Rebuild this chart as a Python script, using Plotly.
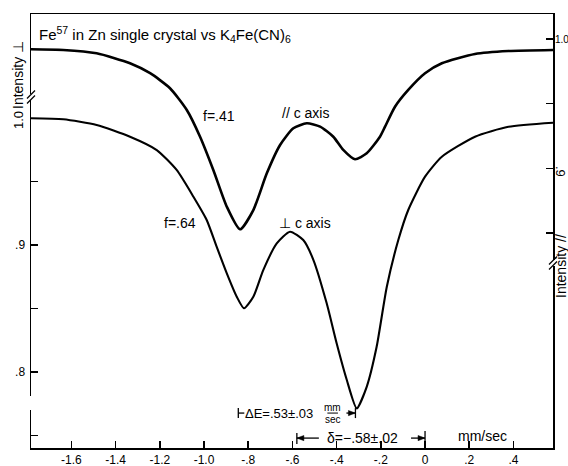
import plotly.graph_objects as go

# ---- data ----
# velocity (mm/sec)
x_tick_vals = [-1.6, -1.4, -1.2, -1.0, -0.8, -0.6, -0.4, -0.2, 0.0, 0.2, 0.4]
x_tick_text = ["-1.6", "-1.4", "-1.2", "-1.0", "-.8", "-.6", "-.4", "-.2", "0", ".2", ".4"]

# parallel to c axis (f=.41), right-hand intensity axis
par_v = [-1.783, -1.637, -1.486, -1.335, -1.244, -1.154, -1.078, -1.018, -0.958, -0.897,
         -0.837, -0.777, -0.716, -0.656, -0.596, -0.535, -0.475, -0.415, -0.370, -0.317,
         -0.264, -0.204, -0.181, -0.136, -0.076, 0.000, 0.076, 0.226, 0.377, 0.579]
par_i = [0.9920, 0.9915, 0.9889, 0.9812, 0.9735, 0.9619, 0.9451, 0.9244, 0.8987, 0.8703,
         0.8528, 0.8677, 0.8961, 0.9180, 0.9309, 0.9348, 0.9322, 0.9244, 0.9142, 0.9070,
         0.9116, 0.9244, 0.9322, 0.9476, 0.9606, 0.9735, 0.9812, 0.9884, 0.9907, 0.9915]

# perpendicular to c axis (f=.64), left-hand intensity axis
perp_v = [-1.783, -1.637, -1.486, -1.335, -1.214, -1.124, -1.048, -0.988, -0.943, -0.897,
          -0.852, -0.819, -0.777, -0.732, -0.671, -0.611, -0.551, -0.505, -0.445, -0.400,
          -0.354, -0.309, -0.264, -0.219, -0.173, -0.121, -0.076, 0.000, 0.076, 0.226,
          0.377, 0.579]
perp_i = [0.9998, 0.9990, 0.9945, 0.9853, 0.9748, 0.9591, 0.9380, 0.9197, 0.8987, 0.8777,
          0.8593, 0.8502, 0.8593, 0.8803, 0.9013, 0.9105, 0.9039, 0.8882, 0.8541, 0.8226,
          0.7937, 0.7714, 0.7884, 0.8199, 0.8672, 0.9039, 0.9276, 0.9538, 0.9695, 0.9853,
          0.9931, 0.9963]

left_major_vals = [0.80, 0.90]
left_major_text = [".8", ".9"]
left_minor_vals = [0.75, 0.85, 0.95]
right_tick_vals = [0.85, 0.90, 0.95, 1.00]

isomer_shift = -0.58
quad_split = 0.53

FONT = "Liberation Sans"
W, H = 568, 466
ML, MR, MT, MB = 31, 15, 14, 18
PW, PH = W - ML - MR, H - MT - MB
XR = [-1.783, 0.579]
YR = [0.7402, 1.0819]
Y2R = [0.6837, 1.0193]
DX = (XR[1] - XR[0]) / PW    # data units per pixel (x)
DY = (YR[1] - YR[0]) / PH    # data units per pixel (left y)


def px_x(p):
    return (p - ML) / PW


def px_y(p):
    return (H - MB - p) / PH


fig = go.Figure()
fig.add_trace(go.Scatter(x=par_v, y=par_i, mode="lines", yaxis="y2",
                         line=dict(color="black", width=2.6, shape="spline", smoothing=0.6),
                         hoverinfo="skip", showlegend=False))
fig.add_trace(go.Scatter(x=perp_v, y=perp_i, mode="lines", yaxis="y",
                         line=dict(color="black", width=2.1, shape="spline", smoothing=0.6),
                         hoverinfo="skip", showlegend=False))

ann = []


def text(x, y, s, size=14, angle=0, xanchor="center", xref="x", yref="y"):
    ann.append(dict(x=x, y=y, xref=xref, yref=yref, text=s, showarrow=False,
                    font=dict(family=FONT, size=size, color="black"), borderpad=0,
                    textangle=angle, xanchor=xanchor, yanchor="middle"))


# title inside the frame
text(px_x(38), px_y(35), "Fe<sup>57</sup> in Zn single crystal vs K<sub>4</sub>Fe(CN)<sub>6</sub>",
     size=15, xanchor="left", xref="paper", yref="paper")
text(-0.932, 1.0016, "f=.41")
text(-0.543, 1.0039, "// c axis")
text(-1.109, 0.9173, "f=.64")
text(-0.543, 0.9173, "⊥ c axis")
text(0.258, 0.7496, "mm/sec")

# axis titles and special tick labels
text(px_x(18), px_y(75), "Intensity ⊥", size=14, angle=-90, xref="paper", yref="paper")
text(px_x(18), px_y(120), "1.0", size=13, angle=-90, xref="paper", yref="paper")
text(px_x(561), px_y(266), "Intensity //", size=14, angle=-90, xref="paper", yref="paper")
text(px_x(561), px_y(171), ".9", size=13, angle=90, xref="paper", yref="paper")
text(px_x(554), px_y(40), "1.0", size=10, xanchor="left", xref="paper", yref="paper")

shapes = []


def seg(x0, y0, x1, y1, w=1.3):
    shapes.append(dict(type="line", xref="x", yref="y", x0=x0, y0=y0, x1=x1, y1=y1,
                       line=dict(color="black", width=w)))


def head(xt, y, direction):
    # filled arrow head with its tip at (xt, y); direction +1 points right, -1 left
    xb = xt - direction * 7 * DX
    path = f"M {xt},{y} L {xb},{y + 2.6 * DY} L {xb},{y - 2.6 * DY} Z"
    shapes.append(dict(type="path", xref="x", yref="y", path=path,
                       fillcolor="black", line=dict(color="black", width=0.5)))


# quadrupole splitting marker
dE_left = isomer_shift - quad_split / 2
dE_right = isomer_shift + quad_split / 2
y_dE = 0.7677
text(dE_left + 41 * DX, y_dE, "ΔE=.53±.03", size=13)
text(-0.418, y_dE + 6.0 * DY, "mm", size=10)
text(-0.418, y_dE - 6.5 * DY, "sec", size=10)
seg(-0.442, y_dE, -0.394, y_dE, 1.0)
seg(dE_left, y_dE - 5 * DY, dE_left, y_dE + 5 * DY)
seg(dE_left, y_dE, dE_left + 6 * DX, y_dE)
seg(dE_right, y_dE - 5 * DY, dE_right, y_dE + 5 * DY)
seg(dE_right - 9 * DX, y_dE, dE_right, y_dE)
head(dE_right, y_dE, +1)

# isomer shift marker
y_d = 0.7480
text(-0.281, y_d, "δ=−.58±.02", size=14)
seg(isomer_shift, y_d - 6 * DY, isomer_shift, y_d + 5 * DY)
seg(isomer_shift, y_d, isomer_shift + 22 * DX, y_d)
head(isomer_shift, y_d, -1)
seg(0.0, YR[0], 0.0, y_d + 7 * DY)
seg(-14 * DX, y_d, 0.0, y_d)
head(0.0, y_d, +1)

# axis breaks
for (cx, cy) in [(31, 97), (553, 263)]:
    shapes.append(dict(type="rect", xref="paper", yref="paper", x0=px_x(cx - 2), x1=px_x(cx + 2),
                       y0=px_y(cy + 3), y1=px_y(cy - 3), line=dict(width=0), fillcolor="white"))
    for d in (-2.5, 2.5):
        shapes.append(dict(type="line", xref="paper", yref="paper",
                           x0=px_x(cx - 4), y0=px_y(cy + 4 + d), x1=px_x(cx + 4), y1=px_y(cy - 4 + d),
                           line=dict(color="black", width=1.3)))
# small gap in the left axis line
shapes.append(dict(type="rect", xref="paper", yref="paper", x0=px_x(29), x1=px_x(33),
                   y0=px_y(410), y1=px_y(396), line=dict(width=0), fillcolor="white"))

axis_common = dict(showline=True, linecolor="black", linewidth=1.5, ticks="inside",
                   ticklen=7, tickwidth=1.5, tickcolor="black", showgrid=False, zeroline=False,
                   automargin=False, tickfont=dict(family=FONT, size=12, color="black"))

fig.update_layout(
    width=W, height=H,
    margin=dict(l=ML, r=MR, t=MT, b=MB, autoexpand=False),
    paper_bgcolor="white", plot_bgcolor="white",
    xaxis=dict(range=XR, tickvals=x_tick_vals, ticktext=x_tick_text,
               mirror=True, ticklabelstandoff=0, **axis_common),
    yaxis=dict(range=YR, tickvals=left_major_vals, ticktext=left_major_text,
               ticklabelstandoff=2,
               minor=dict(tickvals=left_minor_vals, ticks="inside", ticklen=7, tickwidth=1.5,
                          tickcolor="black", showgrid=False),
               **axis_common),
    yaxis2=dict(range=Y2R, tickvals=right_tick_vals, showticklabels=False,
                overlaying="y", side="right", anchor="x", **axis_common),
    annotations=ann, shapes=shapes, showlegend=False,
)

fig.write_html("out.html", config={"displayModeBar": False, "staticPlot": True},
               post_script="document.body.style.margin='0';document.body.style.overflow='hidden';")
